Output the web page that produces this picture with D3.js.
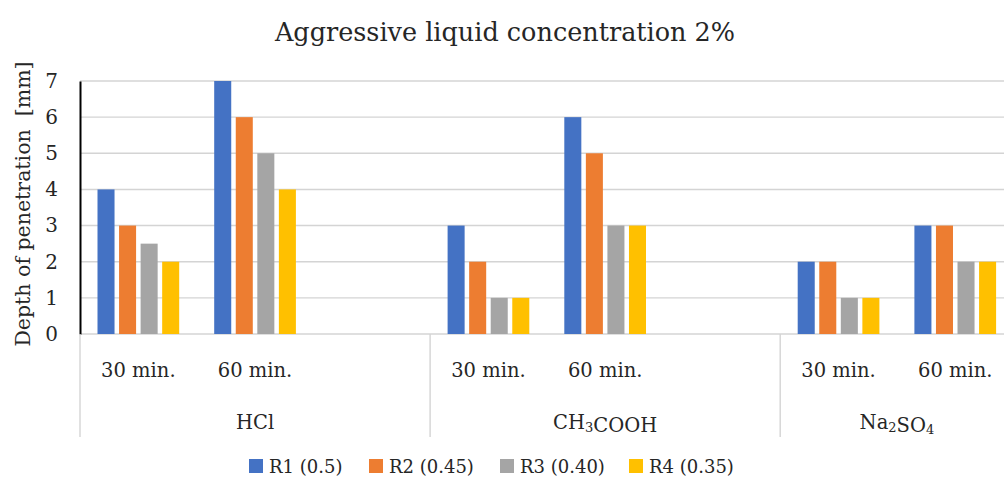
<!DOCTYPE html>
<html>
<head>
<meta charset="utf-8">
<script src="https://cdn.jsdelivr.net/npm/d3@7"></script>
<style>
  body { margin: 0; background: #fff; }
  text { font-family: "DejaVu Serif", "Liberation Serif", serif; fill: #262626; }
</style>
</head>
<body>
<div id="chart"></div>
<script>
// chart data
var groups = ['HCl', 'CH3COOH', 'Na2SO4'];
var groupLabels = [[['HCl', 0]], [['CH', 0], ['3', 1], ['COOH', 0]], [['Na', 0], ['2', 1], ['SO', 0], ['4', 1]]];
var times = ['30 min.', '60 min.'];
var series = ['R1 (0.5)', 'R2 (0.45)', 'R3 (0.40)', 'R4 (0.35)'];
var r1 = [4, 7, 3, 6, 2, 3];
var r2 = [3, 6, 2, 5, 2, 3];
var r3 = [2.5, 5, 1, 3, 1, 2];
var r4 = [2, 4, 1, 3, 1, 2];
var yTicks = [0, 1, 2, 3, 4, 5, 6, 7];
var colors = ['#4472C4', '#ED7D31', '#A5A5A5', '#FFC000'];

(function(d3) {
  'use strict';
  var width = 1004, height = 486;
  var left = 80, slotW = 116.7, top = 81, bottom = 334;
  var slotsPerGroup = [3, 3, 2];
  var labelSize = '19.5px';

  // build slot list (HCl and CH3COOH have an empty third slot)
  var slots = [];
  var rows = [];
  var k = 0;
  groups.forEach(function(g, gi) {
    for (var s = 0; s < slotsPerGroup[gi]; s++) {
      var id = g + '|' + s;
      slots.push(id);
      if (s < times.length) {
        rows.push({ slot: id, time: times[s], values: [r1[k], r2[k], r3[k], r4[k]] });
        k++;
      }
    }
  });

  var svg = d3.select('#chart').append('svg')
    .attr('width', width).attr('height', height);

  var x0 = d3.scaleBand().domain(slots).range([left, left + slotW * slots.length]).padding(0);
  var x1 = d3.scaleBand().domain(series).range([17.5, slotW - 17.5]).paddingInner(0.21).paddingOuter(0);
  var y = d3.scaleLinear().domain([0, 7]).range([bottom, top]);

  // gridlines
  svg.append('g').selectAll('line').data(yTicks).enter().append('line')
    .attr('x1', left).attr('x2', width)
    .attr('y1', function(d) { return y(d); }).attr('y2', function(d) { return y(d); })
    .attr('stroke', '#d4d4d4').attr('stroke-width', 1.4);

  // y axis
  var yAxis = svg.append('g').attr('transform', 'translate(' + left + ',0)')
    .call(d3.axisLeft(y).tickValues(yTicks).tickSize(0).tickPadding(22).tickFormat(d3.format('d')));
  yAxis.select('.domain').attr('stroke', '#000').attr('stroke-width', 2);
  yAxis.selectAll('text').style('font-size', '20px').attr('fill', '#262626')
    .style('font-family', '"DejaVu Serif", serif');

  // bars
  var slotG = svg.selectAll('.slot').data(rows).enter().append('g')
    .attr('class', 'slot')
    .attr('transform', function(d) { return 'translate(' + x0(d.slot) + ',0)'; });
  slotG.selectAll('rect')
    .data(function(d) { return d.values.map(function(v, i) { return { s: series[i], v: v, c: colors[i] }; }); })
    .enter().append('rect')
    .attr('x', function(d) { return x1(d.s); })
    .attr('width', x1.bandwidth())
    .attr('y', function(d) { return y(d.v); })
    .attr('height', function(d) { return y(0) - y(d.v); })
    .attr('fill', function(d) { return d.c; });

  // time labels
  slotG.append('text')
    .attr('x', x0.bandwidth() / 2).attr('y', 377)
    .attr('text-anchor', 'middle').style('font-size', labelSize)
    .text(function(d) { return d.time; });

  // group separators
  var sepX = [0, 3, 6].map(function(i) { return x0(slots[i]); });
  svg.append('g').selectAll('line').data(sepX).enter().append('line')
    .attr('x1', function(d) { return d; }).attr('x2', function(d) { return d; })
    .attr('y1', bottom).attr('y2', 437)
    .attr('stroke', '#d4d4d4').attr('stroke-width', 1.4);

  // group labels
  var start = 0;
  groups.forEach(function(g, gi) {
    var cx = x0(slots[start]) + slotW * slotsPerGroup[gi] / 2;
    start += slotsPerGroup[gi];
    var t = svg.append('text').attr('x', cx).attr('y', 429)
      .attr('text-anchor', 'middle').style('font-size', labelSize);
    groupLabels[gi].forEach(function(p) {
      t.append('tspan').text(p[0])
        .style('font-size', p[1] ? '13px' : labelSize)
        .attr('dy', p[1] ? 2.5 : 0);
      if (p[1]) t.append('tspan').text('').attr('dy', -2.5);
    });
  });

  // title
  svg.append('text').attr('x', 505).attr('y', 41).attr('text-anchor', 'middle')
    .style('font-size', '25.5px').text('Aggressive liquid concentration 2%');

  // y axis title
  svg.append('text').attr('transform', 'translate(30,204) rotate(-90)')
    .attr('text-anchor', 'middle').style('font-size', '20.5px')
    .text('Depth of penetration\u00a0 [mm]');

  // legend
  var legendX = [249, 369, 500, 629];
  var legend = svg.selectAll('.legend').data(series).enter().append('g')
    .attr('class', 'legend')
    .attr('transform', function(d, i) { return 'translate(' + legendX[i] + ',459)'; });
  legend.append('rect').attr('width', 14).attr('height', 14)
    .attr('fill', function(d, i) { return colors[i]; });
  legend.append('text').attr('x', 20).attr('y', 13.5).style('font-size', '18px')
    .text(function(d) { return d; });
})(window.d3);
</script>
</body>
</html>
